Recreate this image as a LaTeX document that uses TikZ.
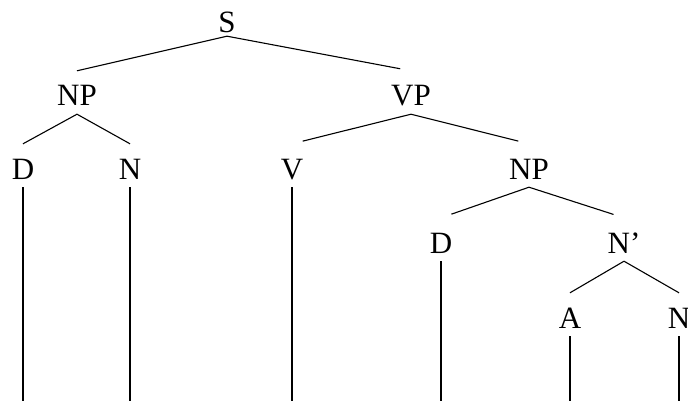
\documentclass[tikz,border=0pt]{standalone}
\usepackage{fontspec}
\setmainfont{Liberation Serif}
\usepackage{tikz}

\begin{document}
\begin{tikzpicture}[x=1pt, y=-1pt,
  every node/.style={anchor=base, inner sep=3pt, text height=32pt, text depth=5pt, font=\fontsize{31}{36}\selectfont},
  edge/.style={line width=1.1pt},
  short/.style={edge, shorten >=11pt}]
\useasboundingbox (0,0) rectangle (688,401);
\coordinate (bottom) at (0,420);

\node[text depth=0pt] (S) at (227,33) {S};

\node (NP1) at (77,106) {NP};
\node (VP) at (411,106) {VP};

\node (D1) at (23,179) {D};
\node (N1) at (130,179) {N};
\node (V) at (292,179) {V};
\node (NP2) at (529,179) {NP};

\node (D2) at (441,253) {D};
\node (N2) at (624,253) {N'};

\node (A) at (570,328) {A};
\node (N3) at (679,328) {N};

\draw[edge] (S.south) -- (NP1.north);
\draw[short] (S.south) -- (VP.north);
\draw[edge] (NP1.south) -- (D1.north);
\draw[edge] (NP1.south) -- (N1.north);
\draw[short] (VP.south) -- (V.north);
\draw[short] (VP.south) -- (NP2.north);
\draw[short] (NP2.south) -- (D2.north);
\draw[short] (NP2.south) -- (N2.north);
\draw[edge] (N2.south) -- (A.north);
\draw[edge] (N2.south) -- (N3.north);

\draw[edge] (D1.south) -- (D1.south |- bottom);
\draw[edge] (N1.south) -- (N1.south |- bottom);
\draw[edge] (V.south) -- (V.south |- bottom);
\draw[edge] (D2.south) -- (D2.south |- bottom);
\draw[edge] (A.south) -- (A.south |- bottom);
\draw[edge] (N3.south) -- (N3.south |- bottom);
\end{tikzpicture}
\end{document}
